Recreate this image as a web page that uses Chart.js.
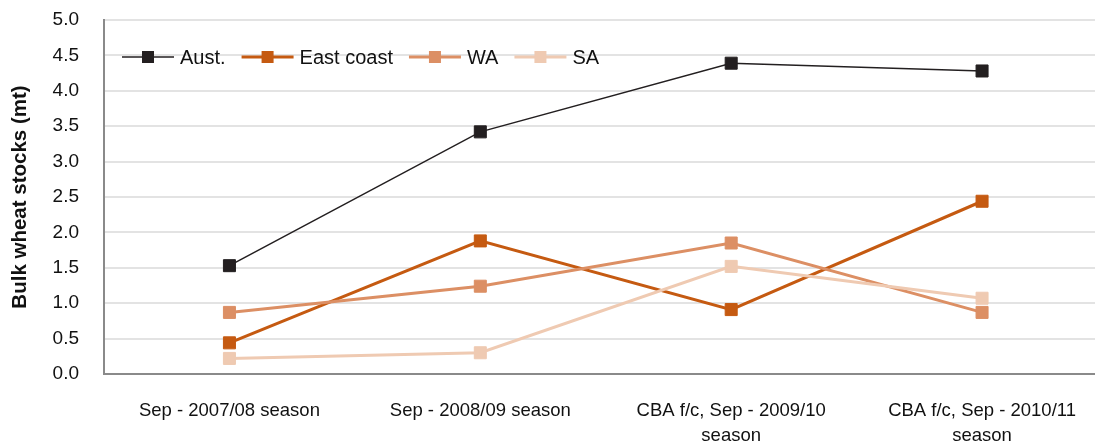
<!DOCTYPE html>
<html>
<head>
<meta charset="utf-8">
<script src="https://cdn.jsdelivr.net/npm/chart.js@4/dist/chart.umd.min.js"></script>
<style>
  html, body { margin: 0; padding: 0; background: #fff; overflow: hidden; }
  #wrap { width: 1117px; height: 445px; }
  #myChart { width: 1117px; height: 445px; }
</style>
</head>
<body>
<div id="wrap"><canvas id="myChart" width="1117" height="445"></canvas></div>
<script>
// stocks by season (million tonnes)
const seasons = [
  'Sep - 2007/08 season',
  'Sep - 2008/09 season',
  ['CBA f/c, Sep - 2009/10', 'season'],
  ['CBA f/c, Sep - 2010/11', 'season']
]
const aust      = [1.53, 3.42, 4.39, 4.28]
const eastCoast = [0.44, 1.88, 0.91, 2.44]
const wa        = [0.87, 1.24, 1.85, 0.87]
const sa        = [0.22, 0.30, 1.52, 1.07]
const yTicks    = ['0.0','0.5','1.0','1.5','2.0','2.5','3.0','3.5','4.0','4.5','5.0']

const FONT = '"Liberation Sans", Arial, sans-serif'

function serie(label, data, color, width, order) {
  return {
    label: label,
    data: data,
    borderColor: color,
    backgroundColor: color,
    borderWidth: width,
    pointStyle: 'rect',
    pointRadius: 8.5,
    pointBorderWidth: 1,
    pointBorderColor: color,
    pointBackgroundColor: color,
    tension: 0,
    order: order
  }
}

// leyenda dentro del area: linea + cuadrado + texto
const leyenda = {
  id: 'leyenda',
  afterDraw(chart) {
    const ctx = chart.ctx
    let x = 122
    const y = 57
    ctx.save()
    ctx.font = '20px ' + FONT
    ctx.textBaseline = 'middle'
    chart.data.datasets.forEach(ds => {
      ctx.strokeStyle = ds.borderColor
      ctx.lineWidth = ds.borderWidth
      ctx.beginPath()
      ctx.moveTo(x, y)
      ctx.lineTo(x + 52, y)
      ctx.stroke()
      ctx.fillStyle = ds.borderColor
      ctx.fillRect(x + 20, y - 6, 12, 12)
      ctx.fillStyle = '#111'
      ctx.fillText(ds.label, x + 58, y + 1)
      x += 58 + ctx.measureText(ds.label).width + 16
    })
    ctx.restore()
  }
}

const ctx = document.getElementById('myChart').getContext('2d')

const chart = new Chart(ctx, {
  type: 'line',
  data: {
    labels: seasons,
    datasets: [
      serie('Aust.', aust, '#231f20', 1.5, 4),
      serie('East coast', eastCoast, '#c55a11', 3, 3),
      serie('WA', wa, '#dc8f64', 3, 2),
      serie('SA', sa, '#efcab2', 3, 1)
    ]
  },
  options: {
    responsive: false,
    animation: false,
    layout: { padding: { top: 20, right: 0, left: 0, bottom: 0 } },
    plugins: {
      legend: { display: false },
      tooltip: { enabled: false }
    },
    scales: {
      x: {
        offset: true,
        grid: { display: false, drawTicks: false },
        border: { color: '#8a8a8a', width: 2 },
        ticks: {
          color: '#111',
          font: { family: FONT, size: 18.5, lineHeight: 1.35 },
          padding: 24,
          maxRotation: 0,
          autoSkip: false
        },
        afterFit(scale) { scale.height = 71 }
      },
      y: {
        min: 0,
        max: 5,
        grid: { color: '#e3e3e3', lineWidth: 2, drawTicks: false },
        border: { color: '#8a8a8a', width: 2 },
        ticks: {
          stepSize: 0.5,
          color: '#111',
          font: { family: FONT, size: 19 },
          padding: 25,
          callback: (v, i) => yTicks[i]
        },
        title: {
          display: true,
          text: 'Bulk wheat stocks (mt)',
          color: '#111',
          font: { family: FONT, size: 20.5, weight: 'bold' },
          padding: { top: 8, bottom: 0 }
        },
        afterFit(scale) {
          scale.width = 104
          scale.paddingTop = 0
          scale.paddingBottom = 0
        }
      }
    }
  },
  plugins: [leyenda]
})
</script>
</body>
</html>
